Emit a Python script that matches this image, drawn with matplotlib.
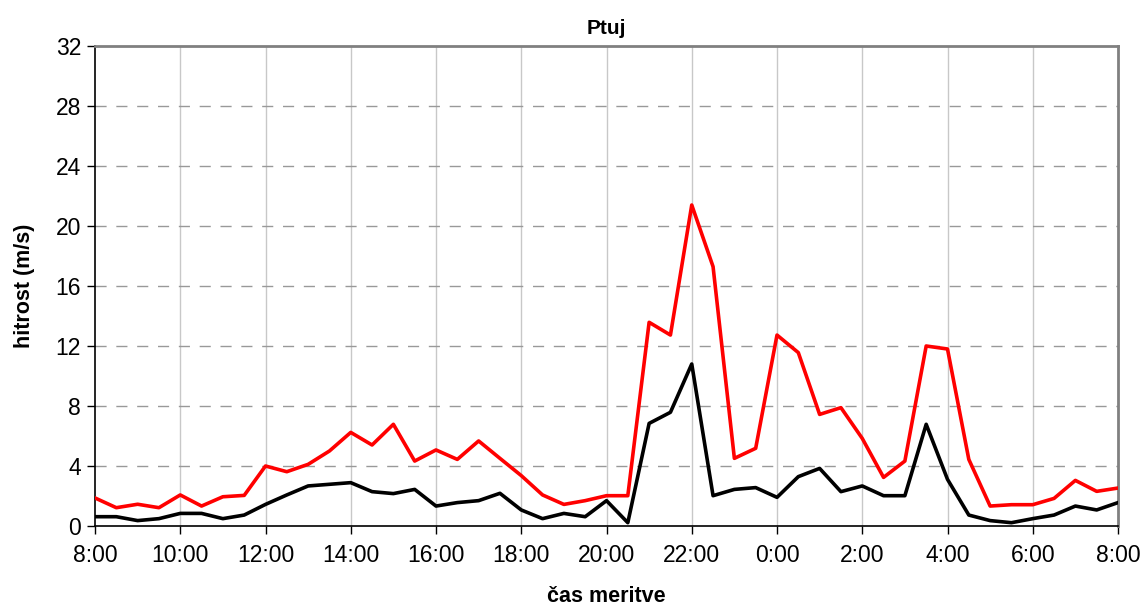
import numpy as np
import matplotlib.pyplot as plt

plt.rcParams['font.family'] = ['Liberation Sans', 'DejaVu Sans']

# Data: wind speed, every 30 min from 8:00 to 8:00 next day
hours = np.arange(0, 24.5, 0.5)
red_vals = [1.87, 1.22, 1.45, 1.22, 2.07, 1.33, 1.95, 2.04, 4.0, 3.62,
            4.11, 5.0, 6.24, 5.4, 6.78, 4.33, 5.07, 4.44, 5.67, 4.51,
            3.36, 2.07, 1.44, 1.69, 2.02, 2.02, 13.58, 12.73, 21.4, 17.29,
            4.51, 5.18, 12.73, 11.56, 7.44, 7.89, 5.84, 3.24, 4.33, 12.0,
            11.8, 4.44, 1.33, 1.42, 1.42, 1.84, 3.04, 2.31, 2.53]
black_vals = [0.62, 0.62, 0.36, 0.49, 0.84, 0.84, 0.49, 0.73, 1.44, 2.07,
              2.67, 2.78, 2.89, 2.29, 2.16, 2.44, 1.33, 1.56, 1.69, 2.18,
              1.07, 0.49, 0.84, 0.62, 1.69, 0.22, 6.84, 7.58, 10.8, 2.02,
              2.44, 2.56, 1.91, 3.29, 3.84, 2.29, 2.67, 2.02, 2.02, 6.78,
              3.11, 0.73, 0.36, 0.22, 0.49, 0.73, 1.33, 1.07, 1.56]
x_labels = ["8:00", "10:00", "12:00", "14:00", "16:00", "18:00", "20:00",
            "22:00", "0:00", "2:00", "4:00", "6:00", "8:00"]
y_ticks = [0, 4, 8, 12, 16, 20, 24, 28, 32]

fig = plt.figure(figsize=(11.43, 6.08), dpi=100)
ax = fig.add_axes([95 / 1143, 82 / 608, 1023 / 1143, 480 / 608])

ax.plot(hours, red_vals, color="#ff0000", lw=2.6, zorder=3)
ax.plot(hours, black_vals, color="black", lw=2.6, zorder=3)

ax.set_xlim(0, 24)
ax.set_ylim(0, 32)
ax.set_xticks(np.arange(0, 25, 2))
ax.set_xticklabels(x_labels)
ax.set_yticks(y_ticks)

# grid: solid vertical, dashed horizontal
for xv in np.arange(2, 24, 2):
    ax.axvline(xv, color="#c8c8c8", lw=1.0, zorder=1)
for yv in y_ticks[1:-1]:
    ax.axhline(yv, color="#999999", lw=1.0, ls=(0, (8, 7)), zorder=1)

ax.tick_params(axis="both", direction="out", length=6, width=1, labelsize=16.5, pad=7, color="black")
ax.tick_params(axis="y", pad=4)
for s in ["left", "bottom"]:
    ax.spines[s].set_color("black")
    ax.spines[s].set_linewidth(1.2)
for s in ["top", "right"]:
    ax.spines[s].set_color("#808080")
    ax.spines[s].set_linewidth(2)

ax.set_title("Ptuj", fontsize=15, fontweight="bold", pad=9)
ax.set_xlabel("čas meritve", fontsize=15.5, fontweight="bold", labelpad=14)
ax.set_ylabel("hitrost (m/s)", fontsize=15.5, fontweight="bold", labelpad=15)

plt.savefig("out.png", dpi=100)
plt.close()
